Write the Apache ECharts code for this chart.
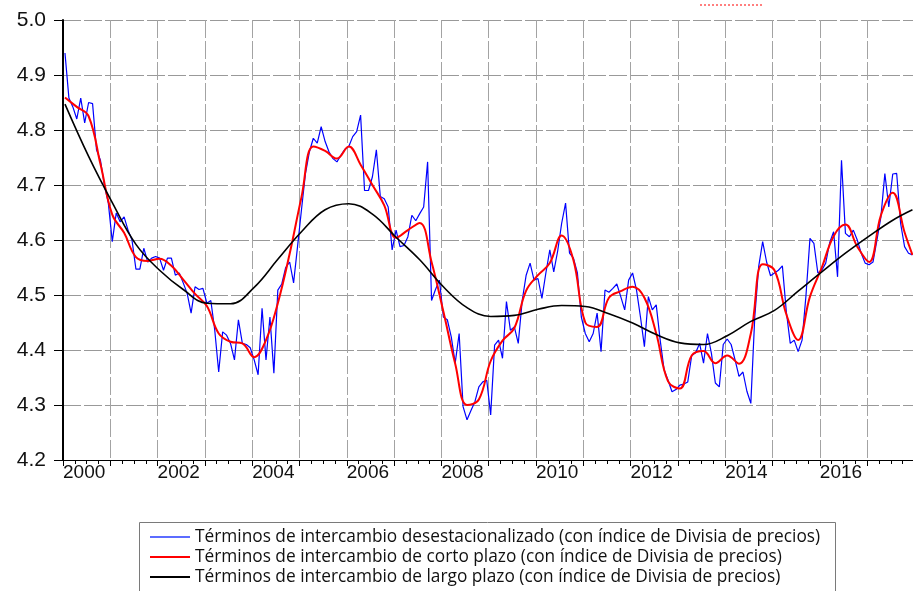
<!DOCTYPE html>
<html>
<head>
<meta charset="utf-8">
<script src="https://cdn.jsdelivr.net/npm/echarts@6/dist/echarts.min.js"></script>
<style>
  html, body { margin: 0; padding: 0; background: #fff; }
  #chart { width: 913px; height: 591px; }
</style>
</head>
<body>
<div id="chart"></div>
<script>
// serie mensual desestacionalizada, ene-2000 .. dic-2017
const y2000 = [4.94, 4.858, 4.842, 4.82, 4.858, 4.813, 4.85, 4.848, 4.764, 4.745, 4.70, 4.667];
const y2001 = [4.597, 4.649, 4.633, 4.642, 4.618, 4.60, 4.547, 4.547, 4.585, 4.56, 4.567, 4.57];
const y2002 = [4.567, 4.545, 4.567, 4.567, 4.536, 4.54, 4.522, 4.503, 4.467, 4.515, 4.51, 4.512];
const y2003 = [4.485, 4.49, 4.436, 4.36, 4.433, 4.427, 4.412, 4.382, 4.455, 4.412, 4.41, 4.404];
const y2004 = [4.382, 4.355, 4.476, 4.382, 4.46, 4.358, 4.509, 4.52, 4.55, 4.56, 4.522, 4.588];
const y2005 = [4.655, 4.72, 4.76, 4.785, 4.776, 4.806, 4.779, 4.76, 4.748, 4.742, 4.754, 4.765];
const y2006 = [4.77, 4.788, 4.797, 4.827, 4.69, 4.69, 4.715, 4.764, 4.679, 4.675, 4.66, 4.582];
const y2007 = [4.618, 4.588, 4.59, 4.606, 4.645, 4.635, 4.648, 4.66, 4.742, 4.49, 4.51, 4.527];
const y2008 = [4.46, 4.455, 4.424, 4.376, 4.43, 4.297, 4.273, 4.29, 4.306, 4.333, 4.342, 4.345];
const y2009 = [4.282, 4.409, 4.418, 4.385, 4.488, 4.436, 4.442, 4.412, 4.49, 4.536, 4.558, 4.527];
const y2010 = [4.53, 4.494, 4.54, 4.582, 4.542, 4.58, 4.63, 4.667, 4.576, 4.567, 4.54, 4.46];
const y2011 = [4.43, 4.415, 4.43, 4.467, 4.397, 4.509, 4.505, 4.512, 4.52, 4.497, 4.473, 4.527];
const y2012 = [4.54, 4.509, 4.46, 4.406, 4.497, 4.473, 4.482, 4.418, 4.364, 4.345, 4.324, 4.328];
const y2013 = [4.336, 4.338, 4.342, 4.39, 4.395, 4.412, 4.376, 4.43, 4.394, 4.34, 4.333, 4.41];
const y2014 = [4.42, 4.41, 4.382, 4.352, 4.36, 4.325, 4.303, 4.46, 4.552, 4.597, 4.56, 4.535];
const y2015 = [4.54, 4.545, 4.553, 4.47, 4.412, 4.418, 4.397, 4.418, 4.50, 4.603, 4.594, 4.54];
const y2016 = [4.545, 4.558, 4.595, 4.615, 4.533, 4.745, 4.612, 4.606, 4.618, 4.60, 4.576, 4.558];
const y2017 = [4.555, 4.56, 4.60, 4.642, 4.721, 4.66, 4.72, 4.721, 4.63, 4.588, 4.576, 4.573];

// corto plazo: leído cada 3 meses (mes 0, 3, 6, ...), último punto en el mes 215
const cortoMes = [0, 3, 6, 9, 12, 15, 18, 21, 24, 27, 30, 33, 36, 39, 42, 45, 48, 51, 54, 57,
  60, 63, 66, 69, 72, 75, 78, 81, 84, 87, 90, 93, 96, 99, 102, 105, 108, 111, 114, 117,
  120, 123, 126, 129, 132, 135, 138, 141, 144, 147, 150, 153, 156, 159, 162, 165, 168, 171, 174, 177,
  180, 183, 186, 189, 192, 195, 198, 201, 204, 207, 210, 213, 215];
const cortoVal = [4.859, 4.842, 4.825, 4.738, 4.646, 4.613, 4.569, 4.562, 4.566, 4.553, 4.528, 4.502,
  4.48, 4.43, 4.415, 4.412, 4.387, 4.418, 4.485, 4.575, 4.678, 4.77, 4.762, 4.748,
  4.77, 4.737, 4.70, 4.663, 4.604, 4.618, 4.631, 4.56, 4.47, 4.375, 4.30, 4.31,
  4.38, 4.417, 4.44, 4.508, 4.536, 4.558, 4.608, 4.563, 4.45, 4.442, 4.495, 4.507,
  4.515, 4.495, 4.43, 4.343, 4.33, 4.39, 4.398, 4.376, 4.39, 4.375, 4.43, 4.556,
  4.545, 4.465, 4.418, 4.497, 4.55, 4.607, 4.628, 4.588, 4.56, 4.645, 4.686, 4.614, 4.573];

// largo plazo: leído cada 6 meses
const largoMes = [0, 6, 12, 18, 24, 30, 36, 42, 48, 54, 60, 66, 72, 78, 84, 90, 96, 102,
  108, 114, 120, 126, 132, 138, 144, 150, 156, 162, 168, 174, 180, 186, 192, 198, 204, 210, 215];
const largoVal = [4.847, 4.752, 4.668, 4.592, 4.545, 4.51, 4.485, 4.484, 4.514, 4.565, 4.615, 4.655,
  4.666, 4.647, 4.605, 4.564, 4.515, 4.477, 4.461, 4.463, 4.474, 4.481, 4.479, 4.466,
  4.449, 4.428, 4.413, 4.41, 4.426, 4.452, 4.472, 4.507, 4.542, 4.576, 4.607, 4.636, 4.655];

const yTicks = [4.2, 4.3, 4.4, 4.5, 4.6, 4.7, 4.8, 4.9, 5.0];
const names = [
  'Términos de intercambio desestacionalizado (con índice de Divisia de precios)',
  'Términos de intercambio de corto plazo (con índice de Divisia de precios)',
  'Términos de intercambio de largo plazo (con índice de Divisia de precios)'
];

const desest = [].concat(y2000, y2001, y2002, y2003, y2004, y2005, y2006, y2007, y2008,
  y2009, y2010, y2011, y2012, y2013, y2014, y2015, y2016, y2017);
// cada observación mensual va a mitad de mes
const toX = m => 2000 + (m + 0.5) / 12;

const chart = echarts.init(document.getElementById('chart'));
chart.setOption({
  animation: false,
  grid: { left: 63, top: 20, right: 0, bottom: 131 },
  legend: {
    orient: 'vertical', left: 139, top: 528,
    padding: [0, 0, 0, 11], itemGap: 2,
    itemWidth: 40, itemHeight: 2, icon: 'rect',
    textStyle: { fontFamily: 'Open Sans', fontSize: 17.3, lineHeight: 18, color: '#111' },
    data: names
  },
  xAxis: {
    type: 'value', min: 2000, max: 2017.97, interval: 1,
    axisLine: { lineStyle: { color: '#000', width: 1 } },
    axisTick: { length: 6, lineStyle: { color: '#000' } },
    minorTick: { show: true, splitNumber: 4, length: 4, lineStyle: { color: '#000' } },
    axisLabel: {
      formatter: v => (Number.isInteger(v) && v % 2 === 0) ? String(v) : '',
      align: 'left', margin: 3, showMaxLabel: false,
      fontFamily: 'Liberation Sans', fontSize: 19, color: '#111'
    },
    splitLine: { show: true, lineStyle: { color: '#a3a3a3', type: [18, 3] } }
  },
  yAxis: {
    type: 'value', min: yTicks[0], max: yTicks[yTicks.length - 1], interval: 0.1,
    axisLine: { show: true, lineStyle: { color: '#000', width: 2 } },
    axisTick: { show: true, length: 9, lineStyle: { color: '#000' } },
    axisLabel: {
      formatter: v => v.toFixed(1), margin: 17,
      fontFamily: 'Liberation Sans', fontSize: 21, color: '#111'
    },
    splitLine: { lineStyle: { color: '#999', type: [18, 3] } }
  },
  series: [
    {
      name: names[0], type: 'line', showSymbol: false, symbol: 'none',
      data: desest.map((v, m) => [toX(m), v]),
      lineStyle: { color: '#0000ff', width: 1.2 }, itemStyle: { color: '#5c6cff' }, z: 2
    },
    {
      name: names[1], type: 'line', showSymbol: false, symbol: 'none', smooth: 0.4,
      data: cortoVal.map((v, i) => [toX(cortoMes[i]), v]),
      lineStyle: { color: '#ff0000', width: 2 }, itemStyle: { color: '#ff0000' }, z: 3
    },
    {
      name: names[2], type: 'line', showSymbol: false, symbol: 'none', smooth: 0.4,
      data: largoVal.map((v, i) => [toX(largoMes[i]), v]),
      lineStyle: { color: '#000', width: 1.6 }, itemStyle: { color: '#000' }, z: 4
    }
  ],
  graphic: [
    {
      // marco de la leyenda; el borde inferior queda fuera de la imagen
      type: 'rect', shape: { x: 139.5, y: 522.5, width: 696, height: 100 },
      style: { fill: 'none', stroke: '#7a7a7a', lineWidth: 1 }, silent: true
    },
    {
      type: 'line', shape: { x1: 700, y1: 5, x2: 764, y2: 5 },
      style: { stroke: '#ff0000', lineWidth: 1, lineDash: [2, 2] }
    }
  ]
});
</script>
</body>
</html>
